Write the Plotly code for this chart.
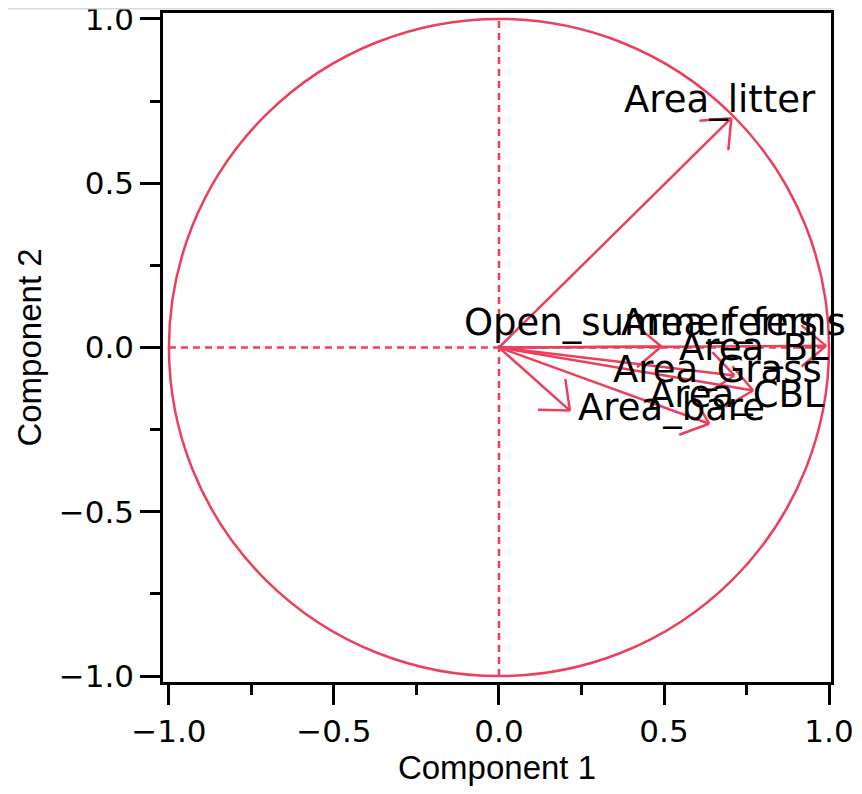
import math
import plotly.graph_objects as go

# ---- data ----
variables = ["Area_litter", "Area_ferns", "Area_BL", "Area_Grass",
             "Area_CBL", "Open_summer_ferns", "Area_bare"]
comp1 = [0.704, 0.991, 0.492, 0.713, 0.770, 0.637, 0.215]
comp2 = [0.698, 0.005, 0.003, -0.085, -0.131, -0.232, -0.192]
tick_values = [-1.0, -0.5, 0.0, 0.5, 1.0]
tick_labels = ["\u22121.0", "\u22120.5", "0.0", "0.5", "1.0"]

# ---- style ----
RED = "#EC3F5B"
label_shift = [(-109, 19), (-207, 23), (16, -1), (-123, 6),
               (-106, -4), (-247, 101), (6, 3)]
# the page body adds an 8px offset, so the figure is 8px smaller with 8px smaller l/t margins
W, H = 854, 786
M_L, M_R, M_T, M_B = 155, 31, 5, 112
XR = [-1.018, 1.006]
YR = [-1.018, 1.018]
sx = (W - M_L - M_R) / (XR[1] - XR[0])
sy = (H - M_T - M_B) / (YR[1] - YR[0])
HEAD_LEN = 32
HEAD_ANG = math.radians(40)

# arrows: shaft + open V head, computed in pixel space through the axis scale
xs, ys = [], []
for x, y in zip(comp1, comp2):
    xs += [0, x, None]
    ys += [0, y, None]
    th = math.atan2(y * sy, x * sx)
    for s in (1, -1):
        a = th + math.pi + s * HEAD_ANG
        hx = x + HEAD_LEN * math.cos(a) / sx
        hy = y + HEAD_LEN * math.sin(a) / sy
        xs += [hx, x, None]
        ys += [hy, y, None]

fig = go.Figure()
fig.add_trace(go.Scatter(x=xs, y=ys, mode="lines",
                         line=dict(color=RED, width=2.5),
                         hoverinfo="skip", showlegend=False, cliponaxis=False))

pw = W - M_L - M_R
ph = H - M_T - M_B
shapes = [
    dict(type="circle", xref="x", yref="y", x0=-1, y0=-1, x1=1, y1=1,
         line=dict(color=RED, width=2.5), layer="below"),
    dict(type="line", xref="x", yref="y", x0=-1, y0=0, x1=1, y1=0,
         line=dict(color=RED, width=2.5, dash="7px,5px"), layer="below"),
    dict(type="line", xref="x", yref="y", x0=0, y0=-1, x1=0, y1=1,
         line=dict(color=RED, width=2.5, dash="7px,5px"), layer="below"),
    dict(type="line", xref="paper", yref="paper",
         x0=-M_L / pw, x1=(825 - M_L) / pw,
         y0=1 + (M_T - 0.5) / ph, y1=1 + (M_T - 0.5) / ph,
         line=dict(color="#d9d9d9", width=2)),
]

annotations = []
for name, x, y, (dx, dy) in zip(variables, comp1, comp2, label_shift):
    annotations.append(dict(x=x, y=y, xref="x", yref="y", text=name,
                            showarrow=False, xanchor="left", yanchor="middle",
                            xshift=dx, yshift=dy,
                            font=dict(family="DejaVu Sans", size=37, color="black")))

axis_common = dict(
    tickvals=tick_values, ticktext=tick_labels,
    ticks="outside", ticklen=20, tickwidth=2.5, tickcolor="black",
    minor=dict(dtick=0.25, tick0=0, ticks="outside", ticklen=10,
               tickwidth=2.5, tickcolor="black"),
    showgrid=False, zeroline=False, automargin=False,
    ticklabeloverflow="allow",
    showline=True, linecolor="black", linewidth=2.5, mirror=True,
    tickfont=dict(family="DejaVu Sans", size=31, color="black"),
)

fig.update_layout(
    width=W, height=H,
    margin=dict(l=M_L, r=M_R, t=M_T, b=M_B, autoexpand=False),
    paper_bgcolor="white", plot_bgcolor="white",
    xaxis=dict(range=XR, title=dict(text="Component 1", standoff=8,
               font=dict(family="Liberation Sans", size=33, color="black")),
               **axis_common),
    yaxis=dict(range=YR, title=dict(text="Component 2", standoff=8,
               font=dict(family="Liberation Sans", size=33, color="black")),
               **axis_common),
    shapes=shapes, annotations=annotations,
)

fig.write_html("out.html")
